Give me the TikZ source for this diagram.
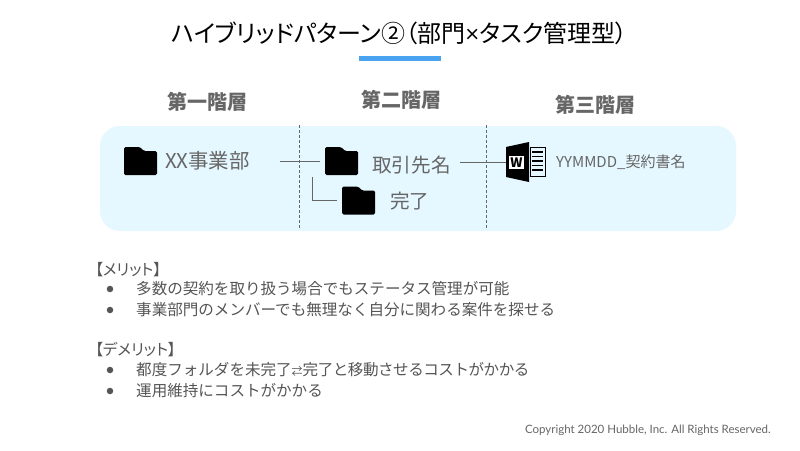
\documentclass[tikz,border=0pt]{standalone}
\usepackage{fontspec}
\setmainfont{Noto Sans CJK JP}
\newfontfamily\paltfont[RawFeature=+palt]{Noto Sans CJK JP}
\newfontfamily\latinfont{Lato}
\usepackage{tikz}
\usetikzlibrary{positioning}
\definecolor{hbpanel}{RGB}{229,247,255}
\definecolor{hbblue}{RGB}{74,163,240}
\definecolor{hbgray}{RGB}{102,102,102}
\definecolor{hbtext}{RGB}{85,85,85}
\tikzstyle{tiernode} = [inner sep=0pt, text=hbgray, font=\fontsize{20}{24}\selectfont\bfseries]
\tikzstyle{labelnode} = [inner sep=0pt, anchor=west, text=hbgray, font=\fontsize{19.6}{23}\selectfont]
\tikzstyle{bodynode} = [inner sep=0pt, anchor=west, text=hbtext, font=\fontsize{15.55}{18}\selectfont]
\tikzstyle{headnode} = [bodynode, font=\paltfont\fontsize{15.55}{18}\selectfont]
\tikzstyle{bulletnode} = [circle, inner sep=0pt, minimum size=6.5pt, fill=hbtext]
\tikzstyle{conn} = [draw=hbgray, line width=0.7pt]
\tikzstyle{divider} = [draw=hbgray, line width=0.8pt, densely dashed]
\tikzstyle{foldernode} = [minimum width=33pt, minimum height=28pt, inner sep=0pt, outer sep=5pt, path picture={
  \fill[black, rounded corners=1.5pt]
    (-16.5,-14) -- (-0.5,-14) -- (3.5,-10) -- (16.5,-10) -- (16.5,14) -- (-16.5,14) -- cycle;
}]

\begin{document}
\begin{tikzpicture}[x=1pt, y=-1pt]
\useasboundingbox[fill=white] (0,0) rectangle (800,450);

\node[inner sep=0pt, font=\paltfont\fontsize{24}{28}\selectfont] (title) at (399.5,33) {ハイブリッドパターン②（部門{\latinfont ×}タスク管理型）};
\fill[hbblue] (359,56) rectangle (441,61);

\fill[hbpanel, rounded corners=20pt] (100,126) rectangle (736,231);

\node[tiernode] (tier1) at (207,102) {第一階層};
\node[tiernode] (tier2) at (401,100) {第二階層};
\node[tiernode] (tier3) at (595,105) {第三階層};

\coordinate (div1a) at (299.5,125);
\coordinate (div1b) at (299.5,228);
\coordinate (div2a) at (486.5,125);
\coordinate (div2b) at (486.5,228);
\draw[divider] (div1a) -- (div1b);
\draw[divider] (div2a) -- (div2b);

\node[foldernode] (dept) at (140.5,161) {};
\node[foldernode] (client) at (341.5,161) {};
\node[foldernode] (done) at (358.5,200.5) {};

\node[labelnode, font=\fontsize{20.4}{24}\selectfont] (deptname) at (165,161) {XX事業部};
\node[labelnode] (clientname) at (372,165) {取引先名};
\node[labelnode] (donename) at (390,201) {完了};

% word icon
\node[minimum width=40pt, minimum height=40pt, inner sep=0pt] (doc) at (526,162) {};
\fill[black] (506,147) -- (529,142) -- (529,182) -- (506,177) -- cycle;
\fill[white] (509,156) rectangle (524,169);
\node[inner sep=0pt, font=\fontsize{13}{13}\selectfont\bfseries] (docmark) at (516.5,162.5) {W};
\draw[black, line width=0.9pt] (530,147.5) rectangle (545,176.5);
\draw[black, line width=1.1pt] (532,152) -- (543,152) (532,156.5) -- (543,156.5) (532,161) -- (543,161) (532,165.5) -- (543,165.5) (532,170) -- (543,170);

\node[labelnode, font=\fontsize{15}{18}\selectfont] (filename) at (556,162) {YYMMDD\_契約書名};

\coordinate (link1) at (280,161);
\coordinate (link2) at (460,162);
\coordinate (link3) at (312,177);
\draw[conn] (link1) -- (client);
\draw[conn] (link2) -- (doc.west);
\draw[conn] (link3) |- (done);

\node[headnode] (merit) at (95,270) {【メリット】};
\node[bulletnode] (b1) at (110,289) {};
\node[bodynode] (m1) at (136,289) {多数の契約を取り扱う場合でもステータス管理が可能};
\node[bulletnode] (b2) at (110,310) {};
\node[bodynode] (m2) at (136,310) {事業部門のメンバーでも無理なく自分に関わる案件を探せる};

\node[headnode] (demerit) at (95,350) {【デメリット】};
\node[bulletnode] (b3) at (110,370) {};
\node[bodynode] (d1) at (136,370) {都度フォルダを未完了{\fontsize{11}{11}\selectfont ⇄}{\addfontfeature{LetterSpace=-3}完了と移動させるコストがかかる}};
\node[bulletnode] (b4) at (110,391) {};
\node[bodynode] (d2) at (136,391) {運用維持にコストがかかる};

\node[inner sep=0pt, anchor=east, text=hbgray, font=\latinfont\fontsize{11.5}{14}\selectfont] (copy) at (771,430) {Copyright 2020 Hubble, Inc. All Rights Reserved.};
\end{tikzpicture}
\end{document}
